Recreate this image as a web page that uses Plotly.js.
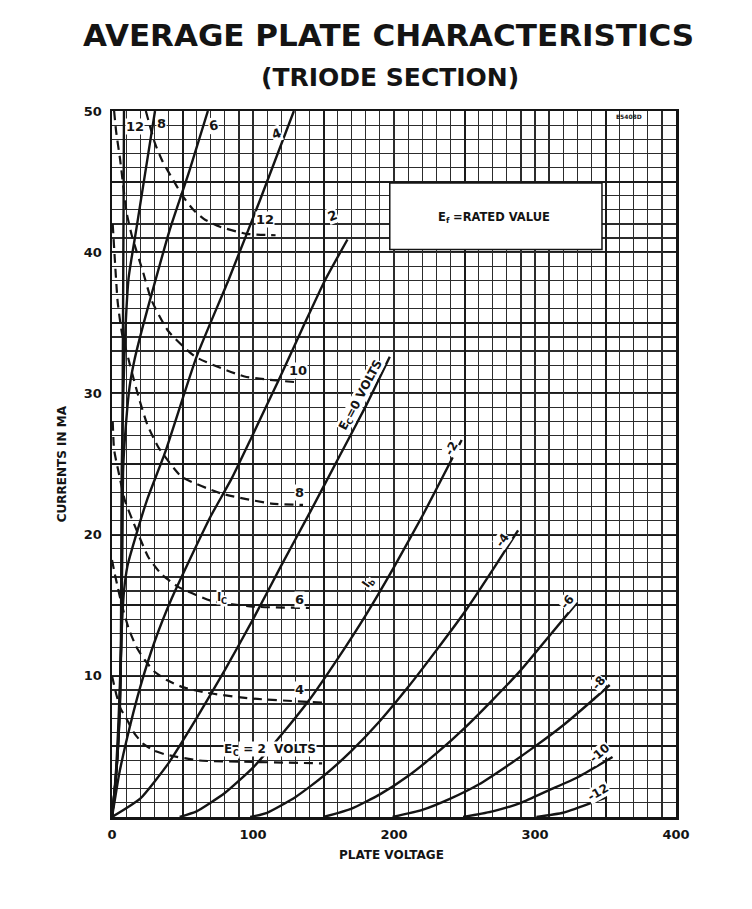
<!DOCTYPE html>
<html><head><meta charset="utf-8">
<script src="https://cdn.plot.ly/plotly-3.0.1.min.js"></script>
<style>html,body{margin:0;padding:0;background:#fff}#chart{width:752px;height:909px}</style>
</head><body><div id="chart"></div>
<script>
// ---- tick labels ----
const xTickVals = [0,100,200,300,400];
const xTickText = ['0','100','200','300','400'];
const yTickVals = [10,20,30,40,50];
const yTickText = ['10','20','30','40','50'];
const xHalfVals = [50,150,250,350];
const yHalfVals = [0,5,15,25,35,45];

// ---- plate current (Ib) curves, solid: plate volts / mA ----
const ib_p12_v = [0,1,2.5,4,5.5,6.5,7,7.4,7.8,8.2,8.5];
const ib_p12_i = [0,1,2.5,4.5,7.5,12,18,26,35,43,50];
const ib_p8_v  = [0,1,2.5,4,5.5,6.3,6.6,6.9,8,9.5,11.8,17.2,24,30.5];
const ib_p8_i  = [0,1,2.5,4.5,7.5,12,18,24.6,30,34.5,38.2,41.6,45.9,50];
const ib_p6_v  = [0,1,2.5,4,5.5,6.6,7.3,7.9,9.5,12.5,16,22,28,41,55,68];
const ib_p6_i  = [0,1,2.5,4.5,8,13,19,24.6,27.3,30.5,32.4,34.8,37,41.6,45.8,50];
const ib_p4_v  = [0,1.5,3,4.5,6,7,8.5,11,16.3,25,37.6,60,82.5,105,129];
const ib_p4_i  = [0,1.5,3.5,6.5,10.5,13.5,16,17.8,19.7,22.5,25.8,32.6,38,43.7,50];
const ib_p2_v  = [0,2,5,10,20,30.5,42,55,70,85,99,118,135,151,167];
const ib_p2_i  = [0,1.2,3,5.3,9.2,12.5,15.4,18.2,21.3,24,26.9,30.9,34.6,38,40.9];
const ib_0_v   = [0,20,40,60,80,100,120,140,160,180,197];
const ib_0_i   = [0,1.3,3.8,7,10.4,14,17.8,21.5,25.3,29.1,32.6];
const ib_m2_v  = [48,60,80,100,120,140,160,180,200,220,248];
const ib_m2_i  = [0,0.4,1.7,3.5,5.8,8.3,11.2,14.3,17.7,21.3,26.7];
const ib_m4_v  = [98,110,130,150,170,190,210,230,250,270,288];
const ib_m4_i  = [0,0.3,1.4,2.9,4.7,6.8,9.2,11.8,14.5,17.5,20.3];
const ib_m6_v  = [150,170,190,210,230,250,270,290,310,330];
const ib_m6_i  = [0,0.6,1.6,2.9,4.5,6.3,8.3,10.4,12.8,15.2];
const ib_m8_v  = [199,220,240,260,280,300,320,340,353];
const ib_m8_i  = [0,0.5,1.3,2.3,3.6,5.0,6.5,8.2,9.35];
const ib_m10_v = [249,270,290,310,330,355];
const ib_m10_i = [0,0.4,1.0,1.9,2.8,4.25];
const ib_m12_v = [301,320,340,351];
const ib_m12_i = [0,0.3,1.0,1.4];

// ---- grid current (Ic) curves, dashed ----
const ic_2_v  = [0,3,6,10.6,16,22,30,39,62,100,149];
const ic_2_i  = [10,8.7,7.7,6.9,5.9,5.2,4.7,4.4,4.0,3.9,3.8];
const ic_4_v  = [0,2,4,7,12,17.5,23.4,30,38.8,50,67,98,149];
const ic_4_i  = [18.2,17.2,16.3,15,13.3,12,11.1,10.3,9.7,9.2,8.8,8.4,8.1];
const ic_6_v  = [0.5,1.5,4.5,9.2,17.5,25.8,35,47,70.7,100,140];
const ic_6_i  = [28,26,24.5,22.4,20.3,18.4,17.2,16.3,15.3,14.9,14.8];
const ic_8_v  = [0.5,2,4,7,12.8,18.7,25,32.8,49.4,77.8,113,135.5];
const ic_8_i  = [42,39.5,36.5,34.3,32,29.8,27.8,26.2,24.1,22.9,22.2,22.1];
const ic_10_v = [1.5,3,5.7,10.4,14,22,28,40,59,94,130];
const ic_10_i = [50,48.5,46.6,42.8,41.2,38.6,36.6,34.4,32.6,31.2,30.8];
const ic_12_v = [24,30.5,36,42.3,50,57.7,66,76.6,95.5,116];
const ic_12_i = [50,47.7,46.4,45.3,44,43,42.3,41.8,41.3,41.2];

const INK = '#141414';
const solid = [
  [ib_p12_v, ib_p12_i],[ib_p8_v, ib_p8_i],[ib_p6_v, ib_p6_i],[ib_p4_v, ib_p4_i],
  [ib_p2_v, ib_p2_i],[ib_0_v, ib_0_i],[ib_m2_v, ib_m2_i],[ib_m4_v, ib_m4_i],
  [ib_m6_v, ib_m6_i],[ib_m8_v, ib_m8_i],[ib_m10_v, ib_m10_i],[ib_m12_v, ib_m12_i]
];
const dashed = [
  [ic_2_v, ic_2_i],[ic_4_v, ic_4_i],[ic_6_v, ic_6_i],
  [ic_8_v, ic_8_i],[ic_10_v, ic_10_i],[ic_12_v, ic_12_i]
];
const traces = [
  {x:[], y:[], xaxis:'x2', yaxis:'y2', type:'scatter', mode:'lines', hoverinfo:'skip'},
  {x:[], y:[], xaxis:'x3', yaxis:'y3', type:'scatter', mode:'lines', hoverinfo:'skip'}
];
solid.forEach(([v,i]) => traces.push({x:v, y:i, type:'scatter', mode:'lines',
  line:{color:INK, width:2.4, shape:'spline', smoothing:0.5}, hoverinfo:'skip'}));
dashed.forEach(([v,i]) => traces.push({x:v, y:i, type:'scatter', mode:'lines',
  line:{color:INK, width:2.2, shape:'spline', smoothing:0.5, dash:'9px,6px'}, hoverinfo:'skip'}));

const F = 'DejaVu Sans';
function lab(text, x, y, angle, size) {
  return {text:text, x:x, y:y, xref:'x', yref:'y', showarrow:false, textangle:angle||0,
    font:{family:F, size:size||12, color:INK, weight:'bold'}, bgcolor:'#ffffff', borderpad:0};
}
// label made of pieces, subscript pieces drawn smaller and lowered
const measureCtx = document.createElement('canvas').getContext('2d');
function composite(x, y, parts, angle, size, xref, yref, bg) {
  const a = angle * Math.PI / 180;
  const d = [Math.cos(a), Math.sin(a)];
  const perp = [-Math.sin(a), Math.cos(a)];
  const sizes = parts.map(p => p[1] ? size * 0.68 : size);
  const widths = parts.map((p, k) => {
    measureCtx.font = 'bold ' + sizes[k] + 'px "' + F + '"';
    return measureCtx.measureText(p[0]).width;
  });
  const total = widths.reduce((s, w) => s + w, 0);
  let pos = -total / 2;
  return parts.map((p, k) => {
    const c = pos + widths[k] / 2;
    pos += widths[k];
    const drop = p[1] ? size * 0.32 : 0;
    const ox = d[0] * c + perp[0] * drop;
    const oy = d[1] * c + perp[1] * drop;
    const ann = {text:p[0], x:x, y:y, xref:xref||'x', yref:yref||'y', showarrow:false,
      textangle:angle, xanchor:'center', yanchor:'middle', xshift:ox, yshift:-oy,
      font:{family:F, size:sizes[k], color:INK, weight:'bold'}, borderpad:0};
    if (bg !== false) ann.bgcolor = '#ffffff';
    return ann;
  });
}

const annotations = [
  {text:'AVERAGE PLATE CHARACTERISTICS', xref:'paper', yref:'paper', x:0.491, y:1.1076,
   xanchor:'center', yanchor:'middle', showarrow:false, font:{family:F, size:31, color:INK, weight:'bold'}},
  {text:'(TRIODE SECTION)', xref:'paper', yref:'paper', x:0.493, y:1.048,
   xanchor:'center', yanchor:'middle', showarrow:false, font:{family:F, size:25, color:INK, weight:'bold'}},
  {text:'PLATE VOLTAGE', xref:'paper', yref:'paper', x:0.496, y:-0.0538,
   xanchor:'center', yanchor:'middle', showarrow:false, font:{family:F, size:12, color:INK, weight:'bold'}},
  {text:'CURRENTS IN MA', xref:'paper', yref:'paper', x:-0.0887, y:0.501, textangle:-90,
   xanchor:'center', yanchor:'middle', showarrow:false, font:{family:F, size:12, color:INK, weight:'bold'}},
  ...composite(271, 42.5, [['E',0],['f',1],[' =RATED VALUE',0]], 0, 11.5, 'x', 'y', false),
  {text:'E5408D', xref:'x', yref:'y', x:367, y:49.6, showarrow:false,
   font:{family:F, size:6, color:INK, weight:'bold'}},
  // plate curve labels
  lab('12', 16.5, 48.9, 0, 13),
  lab('8', 35.2, 49.1, 0, 13),
  lab('6', 71.7, 49.0, -10, 13),
  lab('4', 117, 48.4, -20, 13),
  lab('2', 156.7, 42.6, -20, 13),
  ...composite(176, 29.9, [['E',0],['C',1],['=0 VOLTS',0]], -62, 12),
  ...composite(181, 16.6, [['I',0],['b',1]], -55, 12),
  lab('-2', 241, 26.1, -60, 12),
  lab('-4', 277, 19.6, -55, 12),
  lab('-6', 323, 15.2, -50, 12),
  lab('-8', 345, 9.5, -50, 12),
  lab('-10', 346, 4.5, -40, 12),
  lab('-12', 345, 1.8, -30, 12),
  // grid current labels
  lab('12', 108.5, 42.3, 0, 13),
  lab('10', 132, 31.6, 0, 13),
  lab('8', 133, 23.0, 0, 13),
  lab('6', 133, 15.4, 0, 13),
  ...composite(78, 15.6, [['I',0],['C',1]], 0, 12),
  lab('4', 133, 9.0, 0, 13),
  ...composite(112, 4.8, [['E',0],['C',1],[' = 2  VOLTS',0]], 0, 12)
];

const tf = {family:F, size:13, color:INK, weight:'bold'};
const layout = {
  width:752, height:909, autosize:false,
  margin:{l:112, r:76, t:111, b:92, pad:0},
  paper_bgcolor:'#ffffff', plot_bgcolor:'#ffffff',
  showlegend:false, hovermode:false,
  xaxis:{range:[0,400], tickvals:xTickVals, ticktext:xTickText, ticks:'',
    showgrid:true, gridcolor:'#1a1a1a', gridwidth:2,
    showline:true, mirror:true, linecolor:INK, linewidth:2.5, zeroline:false,
    ticklabelstandoff:4, tickfont:tf, fixedrange:true},
  yaxis:{range:[0,50], tickvals:yTickVals, ticktext:yTickText, ticks:'',
    showgrid:true, gridcolor:'#1a1a1a', gridwidth:2,
    showline:true, mirror:true, linecolor:INK, linewidth:2.5, zeroline:false,
    ticklabelstandoff:5, tickfont:tf, fixedrange:true},
  xaxis2:{overlaying:'x', range:[0,400], tickmode:'linear', tick0:0, dtick:10, ticks:'',
    showticklabels:false, showgrid:true, gridcolor:'#2c2c2c', gridwidth:1.2,
    showline:false, zeroline:false, fixedrange:true},
  yaxis2:{overlaying:'y', range:[0,50], tickmode:'linear', tick0:0, dtick:1, ticks:'',
    showticklabels:false, showgrid:true, gridcolor:'#2c2c2c', gridwidth:1.2,
    showline:false, zeroline:false, fixedrange:true},
  xaxis3:{overlaying:'x', range:[0,400], tickvals:xHalfVals, ticks:'',
    showticklabels:false, showgrid:true, gridcolor:'#1a1a1a', gridwidth:2,
    showline:false, zeroline:false, fixedrange:true},
  yaxis3:{overlaying:'y', range:[0,50], tickvals:yHalfVals, ticks:'',
    showticklabels:false, showgrid:true, gridcolor:'#1a1a1a', gridwidth:2,
    showline:false, zeroline:false, fixedrange:true},
  shapes:[{type:'rect', xref:'x', yref:'y', x0:197, x1:347.5, y0:40.2, y1:44.9,
    fillcolor:'#ffffff', line:{color:INK, width:1.5}, layer:'above'}],
  annotations:annotations
};
Plotly.newPlot('chart', traces, layout, {staticPlot:true, displayModeBar:false});
</script></body></html>
